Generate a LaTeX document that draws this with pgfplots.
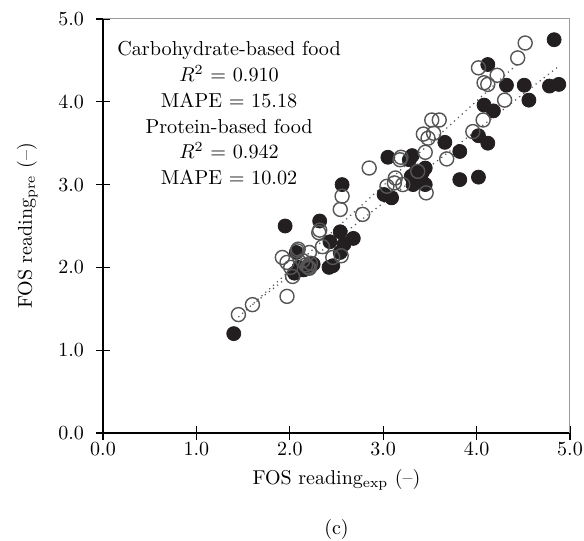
\documentclass[border=0pt]{standalone}
\usepackage{pgfplots}
\pgfplotsset{compat=1.18}
\definecolor{ink}{HTML}{231F20}
\definecolor{ring}{HTML}{555555}
\definecolor{frame}{HTML}{9A9A9A}
\begin{document}
\begin{tikzpicture}
\begin{axis}[
  scale only axis,
  width=233.5pt, height=207pt,
  xmin=0, xmax=5, ymin=0, ymax=5,
  xtick={0,1,...,5}, ytick={0,1,...,5},
  xticklabel style={yshift=2.5pt, /pgf/number format/.cd,fixed,fixed zerofill,precision=1},
  yticklabel style={xshift=-2.5pt, /pgf/number format/.cd,fixed,fixed zerofill,precision=1},
  /pgf/number format/assume math mode=true,
  axis x line=bottom, axis y line=left,
  axis line style={-, line width=0.8pt, black},
  tick align=center, major tick length=7pt,
  tick style={black, line width=0.6pt},
  xlabel={FOS reading\textsubscript{exp} (--)},
  ylabel={FOS reading\textsubscript{pre} (--)},
  ylabel style={yshift=3.5pt},
  clip=false,
]
\coordinate (ll) at (rel axis cs:0,0);
\coordinate (ur) at (rel axis cs:1,1);
\draw[frame, line width=0.5pt] (rel axis cs:0,1) -- (rel axis cs:1,1) -- (rel axis cs:1,0);
% regression lines
\addplot[ring, dotted, line width=0.6pt] coordinates {(1.45,1.40) (4.45,4.47)};
\addplot[ring, dotted, line width=0.6pt] coordinates {(1.60,1.55) (4.87,4.42)};
% filled points
\addplot[only marks, mark=*, mark size=3.5pt, mark options={fill=ink, draw=ink}] coordinates {
(1.40,1.20) (1.95,2.50) (2.07,2.18) (2.05,1.93) (2.10,2.00) (2.15,1.97)
(2.20,2.02) (2.25,2.04) (2.32,2.56) (2.42,2.00) (2.46,2.02) (2.43,2.31)
(2.54,2.43) (2.54,2.18) (2.58,2.28) (2.68,2.35) (2.56,3.00) (3.01,2.88)
(3.09,2.84) (3.05,3.33) (3.28,3.30) (3.31,3.35) (3.30,3.10) (3.35,3.15)
(3.42,3.15) (3.45,3.20) (3.32,3.00) (3.45,3.00) (3.40,3.08) (3.66,3.51)
(3.82,3.40) (3.82,3.06) (4.02,3.09) (4.02,3.59) (4.12,3.50) (4.08,3.96)
(4.18,3.89) (4.12,4.45) (4.32,4.20) (4.51,4.20) (4.56,4.02) (4.78,4.19)
(4.88,4.21) (4.83,4.75)
};
% open points
\addplot[only marks, mark=o, mark size=3.5pt, mark options={draw=ring, line width=0.7pt}] coordinates {
(1.45,1.43) (1.60,1.55) (1.97,1.65) (1.92,2.12) (1.97,2.06) (2.03,1.89)
(2.01,2.00) (2.09,2.22) (2.08,2.20) (2.14,2.08) (2.17,2.03) (2.19,2.01)
(2.20,2.00) (2.21,1.99) (2.22,2.05) (2.21,2.18) (2.35,2.25) (2.32,2.45)
(2.31,2.42) (2.46,2.12) (2.55,2.14) (2.54,2.70) (2.56,2.86) (2.78,2.64)
(2.85,3.20) (3.04,2.98) (3.13,3.08) (3.12,3.02) (3.19,3.33) (3.18,3.30)
(3.21,3.00) (3.37,3.16) (3.43,3.61) (3.45,3.39) (3.48,3.56) (3.54,3.62)
(3.52,3.78) (3.60,3.78) (3.46,2.90) (3.68,3.31) (3.96,3.64) (4.07,3.78)
(4.02,4.41) (4.08,4.23) (4.12,4.21) (4.22,4.32) (4.30,4.02) (4.44,4.53)
(4.52,4.71)
};
\node[align=center, anchor=north, inner sep=0pt, font=\fontsize{10.1}{12.9}\selectfont]
  at ([yshift=-11pt]axis cs:1.35,5) {%
  Carbohydrate-based food\\
  $R^2$ = 0.910\\
  MAPE = 15.18\\
  Protein-based food\\
  $R^2$ = 0.942\\
  MAPE = 10.02};
\node at ([yshift=-48.5pt]rel axis cs:0.5,0) {(c)};
\end{axis}
\pgfresetboundingbox
\path ([shift={(-51.5pt,-54pt)}]ll) rectangle ([shift={(7pt,9.5pt)}]ur);
\end{tikzpicture}
\end{document}
